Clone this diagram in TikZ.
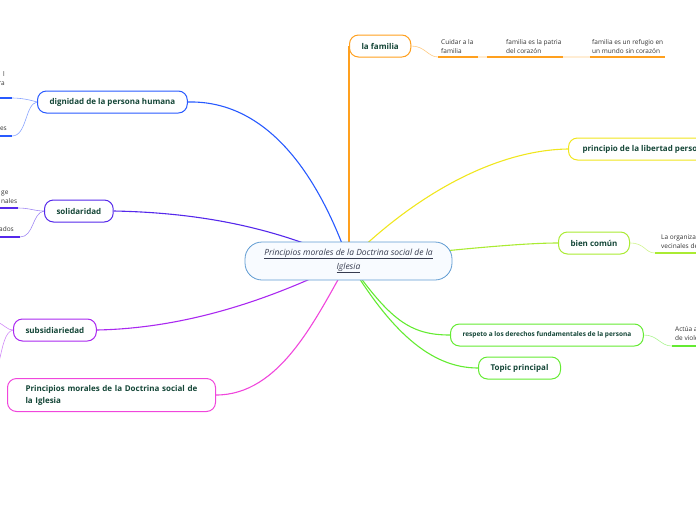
\documentclass[tikz,border=0pt]{standalone}
\usepackage{fontspec}
\setmainfont{Open Sans}
\usetikzlibrary{positioning,backgrounds}
\definecolor{txtgreen}{RGB}{20,70,55}
\definecolor{notegray}{RGB}{50,50,50}
\definecolor{cenblue}{RGB}{95,155,210}
\definecolor{cenfill}{RGB}{248,251,255}
\definecolor{cengray}{RGB}{55,60,80}
\definecolor{dignblue}{RGB}{40,90,255}
\definecolor{solpurple}{RGB}{85,40,235}
\definecolor{subpurple}{RGB}{170,40,240}
\definecolor{primag}{RGB}{240,70,220}
\definecolor{famorange}{RGB}{255,160,30}
\definecolor{libyellow}{RGB}{240,230,30}
\definecolor{bienlime}{RGB}{170,235,50}
\definecolor{respgreen}{RGB}{100,235,50}

\begin{document}
\begin{tikzpicture}[x=1pt, y=-1pt,
  topic/.style={draw, line width=1pt, rounded corners=9pt, fill=white,
    text=txtgreen, font=\fontsize{8}{10}\selectfont\bfseries,
    minimum height=22pt, inner xsep=12pt, anchor=west},
  note/.style={text=notegray, font=\fontsize{6.5}{9}\selectfont,
    align=left, inner sep=1pt},
  branch/.style={line width=1.1pt},
  twig/.style={line width=0.6pt, opacity=0.55},
  bar/.style={line width=1.8pt}]

\useasboundingbox (0,0) rectangle (696,520);

% ----------------------
% Central topic
% ----------------------
\node[draw=cenblue, line width=0.8pt, fill=cenfill, rounded corners=17pt,
  minimum width=207pt, minimum height=38pt, align=center, text=cengray,
  font=\fontsize{8.5}{14}\selectfont\itshape] (cen) at (348.5,261)
{\underline{Principios morales de la Doctrina social de la}\\\underline{Iglesia}};

% ----------------------
% Main topics
% ----------------------
\node[topic, draw=dignblue] (dig) at (37,102) {dignidad de la persona humana};
\node[topic, draw=solpurple] (sol) at (44,211) {solidaridad};
\node[topic, draw=subpurple] (sub) at (13,330) {subsidiariedad};
\node[topic, draw=primag, minimum height=33pt, text width=172pt, align=left,
  inner xsep=18pt, font=\fontsize{8}{12}\selectfont\bfseries] (pri) at (7,395)
{Principios morales de la Doctrina social de la Iglesia};
\node[topic, draw=famorange] (fam) at (349,46) {la familia};
\node[topic, draw=libyellow, inner xsep=14pt] (lib) at (568,149) {principio de la libertad personal};
\node[topic, draw=bienlime] (bien) at (558,243) {bien común};
\node[topic, draw=respgreen, font=\fontsize{6.5}{8}\selectfont\bfseries] (resp) at (450,335)
{respeto a los derechos fundamentales de la persona};
\node[topic, draw=respgreen] (top) at (478,368) {Topic principal};

% ----------------------
% Notes
% ----------------------
\node[note, anchor=south west] (f1) at (440,55) {Cuidar a la\\familia};
\node[note, anchor=south west] (f2) at (505,55) {familia es la patria\\del corazón};
\node[note, anchor=south west] (f3) at (591,55) {familia es un refugio en\\un mundo sin corazón};
\node[note, anchor=south east, align=right] (d1) at (6,87) {l\\ra};
\node[note, anchor=south east] (d2) at (8,132) {es};
\node[note, anchor=south west] (s1) at (0,205) {ge\\nales};
\node[note, anchor=south east] (s2) at (15,233) {ados};
\node[note, anchor=south west] (b1) at (660,250) {La organiza\\vecinales de};
\node[note, anchor=south west] (r1) at (674,342) {Actúa a\\de viole};

% ----------------------
% Note bars and twigs
% ----------------------
\draw[bar, famorange] (438,57) -- (478,57);
\draw[bar, famorange] (487,57) -- (563,57);
\draw[bar, famorange] (590,57) -- (665,57);
\draw[twig, famorange] (fam.east) .. controls (425,46) and (428,57) .. (438,57) -- (590,57);

\draw[bar, dignblue] (-2,98) -- (12,98);
\draw[bar, dignblue] (-2,136) -- (12,136);
\draw[twig, dignblue] (dig.west) .. controls (30,100) and (22,98) .. (12,98);
\draw[twig, dignblue] (dig.west) .. controls (25,104) and (27,136) .. (12,136);

\draw[bar, solpurple] (-2,208) -- (18,208);
\draw[bar, solpurple] (-2,237) -- (20,237);
\draw[twig, solpurple] (sol.west) .. controls (34,211) and (30,208) .. (18,208);
\draw[twig, solpurple] (sol.west) .. controls (32,213) and (34,237) .. (20,237);

\draw[twig, subpurple] (sub.west) .. controls (7,330) and (5,325) .. (-3,322);
\draw[twig, subpurple] (sub.west) .. controls (5,332) and (3,345) .. (-1,362);

\draw[bar, bienlime] (655,253) -- (700,253);
\draw[twig, bienlime] (bien.east) .. controls (645,243) and (645,253) .. (655,253);
\draw[bar, respgreen] (672,346) -- (700,346);
\draw[twig, respgreen] (resp.east) .. controls (658,335) and (660,346) .. (672,346);

% ----------------------
% Branches to the centre
% ----------------------
\begin{scope}[on background layer]
\draw[branch, dignblue] (dig.east) .. controls (270,100) and (320,180) .. (cen.center);
\draw[branch, solpurple] (sol.east) .. controls (220,213) and (290,235) .. (cen.center);
\draw[branch, subpurple] (sub.east) .. controls (200,328) and (290,290) .. (cen.center);
\draw[branch, primag] (pri.east) .. controls (280,395) and (315,320) .. (cen.center);
\draw[branch, famorange] (fam.west) -- (fam.west |- cen.center);
\draw[branch, libyellow] (cen.center) .. controls (420,190) and (500,150) .. (lib.west);
\draw[branch, bienlime] (cen.center) .. controls (450,250) and (520,243) .. (bien.west);
\draw[branch, respgreen] (cen.center) .. controls (390,320) and (410,335) .. (resp.west);
\draw[branch, respgreen] (cen.center) .. controls (390,330) and (430,368) .. (top.west);
\end{scope}

\end{tikzpicture}
\end{document}
